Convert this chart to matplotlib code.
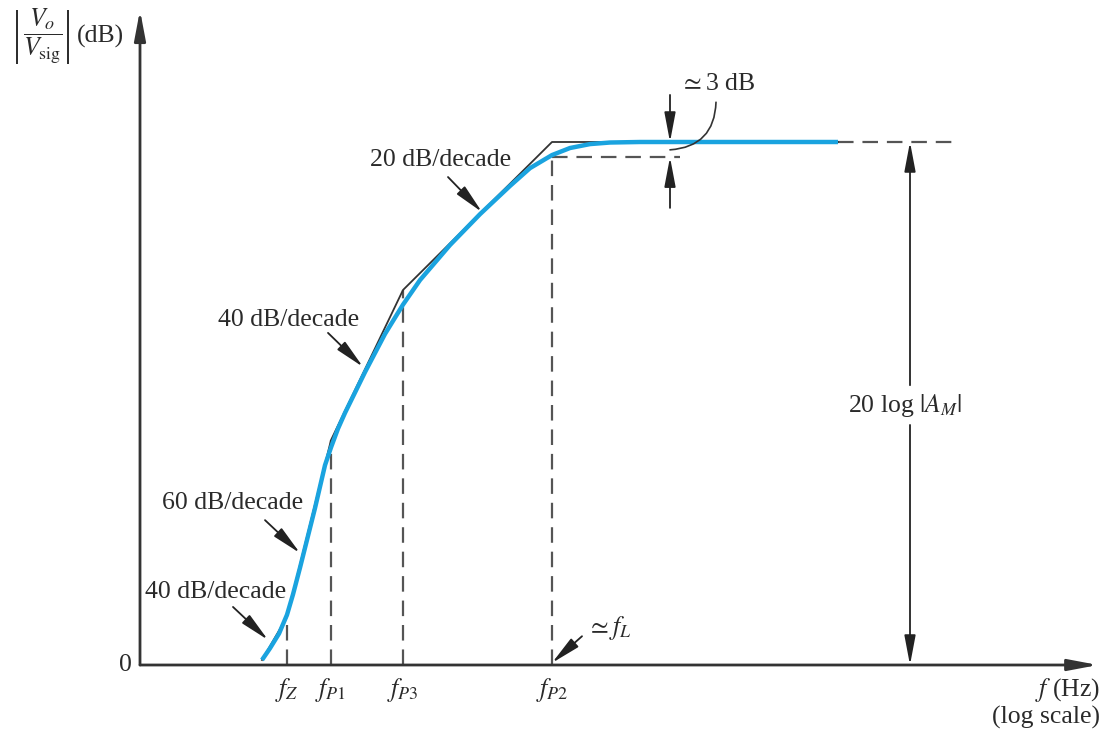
import matplotlib
matplotlib.use("Agg")
import matplotlib.pyplot as plt

plt.rcParams["font.family"] = "serif"
plt.rcParams["font.serif"] = ["Liberation Serif", "DejaVu Serif"]
plt.rcParams["mathtext.fontset"] = "stix"

# x in decades (log f), y in dB
A_M = 100.0
BREAK_NAMES = [r"$f_Z$", r"$f_{P1}$", r"$f_{P3}$", r"$f_{P2}$"]
BREAK_X = [1.47, 1.91, 2.63, 4.12]
BREAK_Y = [9.2, 43.0, 71.7, 100.0]
SLOPE_LABELS = ["40 dB/decade", "60 dB/decade", "40 dB/decade", "20 dB/decade"]

# asymptotic (straight line) plot
ASYM_X = [1.22] + BREAK_X + [6.98]
ASYM_Y = [0.96] + BREAK_Y + [A_M]

CURVE_X = [1.22, 1.30, 1.39, 1.47, 1.53, 1.60, 1.75, 1.85, 1.91, 1.98, 2.05,
           2.25, 2.45, 2.63, 2.80, 3.10, 3.40, 3.70, 3.90, 4.12, 4.30, 4.50,
           4.70, 5.00, 6.98]
CURVE_Y = [0.96, 3.2, 6.0, 9.6, 13.5, 18.6, 30.0, 38.2, 41.6, 45.2, 48.2,
           56.0, 63.3, 68.9, 73.6, 80.3, 86.2, 91.6, 95.0, 97.5, 98.85, 99.6,
           99.9, 100.0, 100.0]

# label anchors and arrow (tail, head) for the slope annotations
SLOPE_TEXT = [(0.05, 14.0), (0.22, 31.0), (0.78, 66.0), (2.30, 96.6)]
SLOPE_TAIL = [(0.93, 11.1), (1.25, 27.7), (1.88, 63.5), (3.08, 93.3)]
SLOPE_HEAD = [(1.28, 4.8), (1.60, 21.4), (2.23, 57.0), (3.42, 86.6)]

DROP_3DB = 2.9
GREY = "#555555"
TXT = "#2a2a2a"
BLUE = "#1aa3df"
FS = 18.5

fig = plt.figure(figsize=(11.08, 7.32), dpi=100)
ax = fig.add_axes([0, 0, 1, 1])
ax.set_xlim(-1.4, 9.68)
ax.set_ylim(-12.81, 127.15)
ax.axis("off")

head = dict(arrowstyle="-|>,head_length=0.9,head_width=0.17", color="#222222",
            lw=1.3, mutation_scale=20, shrinkA=0, shrinkB=0)

# axes with arrows
ax.annotate("", xy=(0, 125.2), xytext=(0, 0), arrowprops=dict(head, color="#333333", lw=2))
ax.annotate("", xy=(9.58, 0), xytext=(0, 0), arrowprops=dict(head, color="#333333", lw=2))

# dashed guides
dash = dict(color=GREY, lw=1.6, ls=(0, (7, 4)))
for xb, yb in zip(BREAK_X, BREAK_Y):
    top = yb if xb != BREAK_X[-1] else A_M - DROP_3DB
    ax.plot([xb, xb], [0, top], **dash)
ax.plot([BREAK_X[-1], 5.40], [A_M - DROP_3DB] * 2, **dash)
ax.plot([6.98, 8.15], [A_M, A_M], **dash)

# asymptotes and curve
ax.plot(ASYM_X, ASYM_Y, color="#333333", lw=1.3)
ax.plot(CURVE_X, CURVE_Y, color=BLUE, lw=3.2, solid_capstyle="butt")

# slope annotations
for lab, tp, tl, hd in zip(SLOPE_LABELS, SLOPE_TEXT, SLOPE_TAIL, SLOPE_HEAD):
    ax.text(tp[0], tp[1], lab, fontsize=FS, color=TXT, ha="left", va="center")
    ax.annotate("", xy=hd, xytext=tl, arrowprops=head)

# 3 dB marker
ax.annotate("", xy=(5.30, A_M), xytext=(5.30, 109.0), arrowprops=head)
ax.annotate("", xy=(5.30, A_M - DROP_3DB), xytext=(5.30, 87.4), arrowprops=head)
ax.text(5.40, 111.0, r"$\simeq$3 dB", fontsize=FS, color=TXT, ha="left", va="center")
ax.annotate("", xy=(5.30, 98.5), xytext=(5.76, 107.6),
            arrowprops=dict(arrowstyle="-", color="#333333", lw=1.2,
                            connectionstyle="arc3,rad=-0.45", shrinkA=0, shrinkB=0))

# midband gain arrow
ax.annotate("", xy=(7.70, A_M), xytext=(7.70, 53.5), arrowprops=head)
ax.annotate("", xy=(7.70, 0), xytext=(7.70, 45.9), arrowprops=head)
ax.text(7.65, 49.7, r"20 log $|A_M|$", fontsize=FS, color=TXT, ha="center", va="center")

# f_L pointer
ax.annotate("", xy=(BREAK_X[-1], 0.4), xytext=(4.42, 5.5), arrowprops=head)
ax.text(4.47, 7.0, r"$\simeq f_L$", fontsize=FS, color=TXT, ha="left", va="center")

# tick labels
for name, xb in zip(BREAK_NAMES, BREAK_X):
    ax.text(xb, -4.8, name, fontsize=FS, color=TXT, ha="center", va="center")
ax.text(-0.08, 0, "0", fontsize=FS, color=TXT, ha="right", va="center")

# axis titles
ax.text(9.60, -4.8, r"$f$ (Hz)", fontsize=FS, color=TXT, ha="right", va="center")
ax.text(9.60, -10.1, "(log scale)", fontsize=FS, color=TXT, ha="right", va="center")

# |Vo/Vsig| (dB) with thin magnitude bars
ylab_y = 120.1
ax.text(-0.975, ylab_y, r"$\dfrac{V_o}{V_{\rm sig}}$", fontsize=FS, color=TXT,
        ha="center", va="center")
ax.vlines([-1.23, -0.72], ylab_y - 5.1, ylab_y + 5.1, color=TXT, lw=1.4)
ax.text(-0.63, ylab_y, "(dB)", fontsize=FS, color=TXT, ha="left", va="center")

fig.savefig("out.png", dpi=100)
